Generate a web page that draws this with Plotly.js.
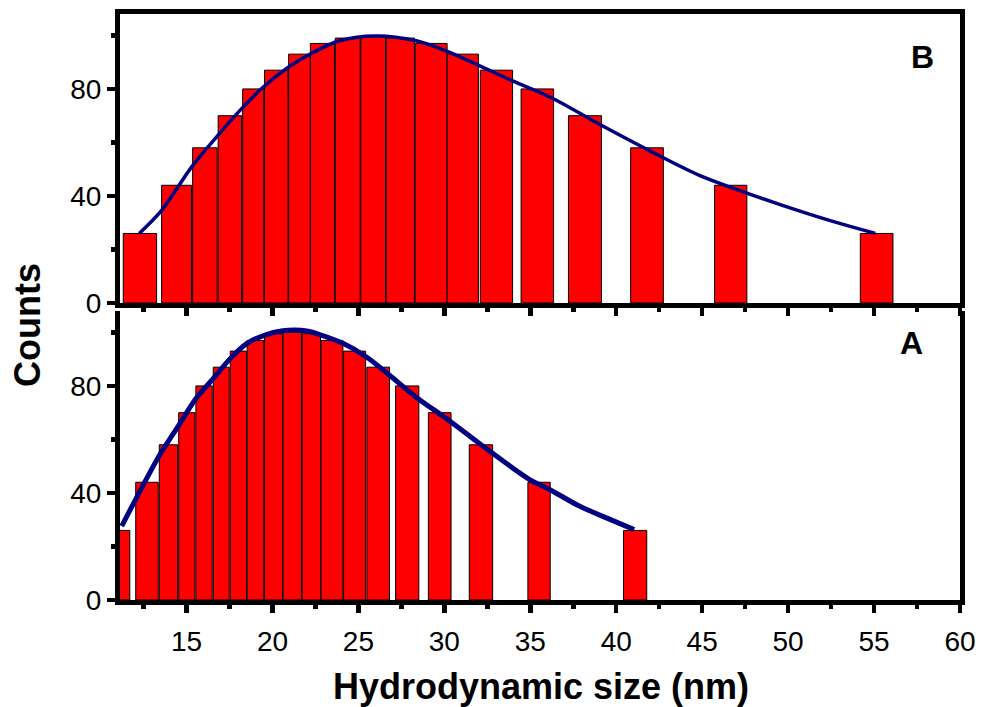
<!DOCTYPE html>
<html>
<head>
<meta charset="utf-8">
<script src="https://cdn.plot.ly/plotly-3.0.1.min.js"></script>
<style>
  html, body { margin: 0; padding: 0; background: #ffffff; }
  #chart { width: 981px; height: 707px; }
</style>
</head>
<body>
<div id="chart"></div>
<script>
// ---------- Data ----------
// Panel B (top)
const binCenterB = [12.29, 14.42, 16.07, 17.52, 18.88, 20.22, 21.57, 22.91, 24.38, 25.86, 27.44, 29.23, 31.07, 33.03, 35.41, 38.18, 41.79, 46.66, 55.15];
const binWidthB  = [1.94, 1.74, 1.43, 1.36, 1.23, 1.37, 1.26, 1.41, 1.45, 1.44, 1.64, 1.86, 1.82, 1.88, 1.89, 1.92, 1.90, 1.88, 1.90];
const countB     = [26, 44, 58, 70, 80, 87, 93, 97, 99, 100, 99, 97, 93, 87, 80, 70, 58, 44, 26];
const fitXB = [12.25, 13.55, 15.29, 16.74, 18.1, 19.45, 20.9, 22.36, 23.9, 26.04, 28.36, 30.1, 32.03, 33.97, 36.2, 39.0, 42.1, 44.84, 47.15, 49.67, 52.6, 55.07];
const fitYB = [26, 34.6, 50.8, 62, 71.9, 80.6, 88, 93.6, 98, 99.8, 98, 94.2, 88.7, 83, 76.8, 66.9, 56.4, 47.7, 42.1, 36.5, 30.5, 26];

// Panel A (bottom)
const binCenterA = [11.2, 12.70, 13.95, 15.02, 16.02, 17.02, 18.02, 19.01, 20.06, 21.15, 22.26, 23.46, 24.78, 26.15, 27.84, 29.73, 32.13, 35.51, 41.10];
const binWidthA  = [1.0, 1.31, 1.07, 0.95, 0.95, 0.93, 0.95, 0.97, 1.05, 1.07, 1.07, 1.28, 1.28, 1.32, 1.35, 1.32, 1.36, 1.30, 1.35];
const countA     = [26, 44, 58, 70, 80, 87, 93, 97, 99.5, 100, 99.5, 97, 93, 87, 80, 70, 58, 44, 26];
const fitXA = [11.23, 12.04, 13.41, 14.54, 15.54, 16.55, 17.54, 18.52, 19.65, 20.5, 21.29, 22.0, 22.74, 24.1, 25.45, 26.81, 28.36, 30.29, 32.04, 34.94, 36.1, 37.85, 39.5, 41.04];
const fitYA = [27.6, 37.6, 53.9, 65.2, 75.2, 82.7, 90.2, 95.9, 99.2, 100.5, 100.9, 100.5, 99.2, 95.9, 90.9, 84, 75.8, 67, 58.5, 45.1, 41.4, 35.1, 30.5, 26.3];

const xTickVals = [15, 20, 25, 30, 35, 40, 45, 50, 55, 60];
const xTickText = ['15', '20', '25', '30', '35', '40', '45', '50', '55', '60'];
const yTickVals = [0, 40, 80];
const yTickText = ['0', '40', '80'];
const panelLabels = ['B', 'A'];
const xTitle = 'Hydrodynamic size (nm)';
const yTitle = 'Counts';

// ---------- Styling ----------
const RED = '#ff0000';
const NAVY = '#000080';
const FONT = 'Liberation Sans, Arial, sans-serif';

const traces = [
  {
    type: 'bar', x: binCenterB, y: countB, width: binWidthB,
    marker: { color: RED, line: { color: '#000000', width: 1 } },
    xaxis: 'x', yaxis: 'y', hoverinfo: 'x+y', showlegend: false
  },
  {
    type: 'scatter', mode: 'lines', x: fitXB, y: fitYB,
    line: { color: NAVY, width: 3.5, shape: 'spline', smoothing: 0.9 },
    xaxis: 'x', yaxis: 'y', showlegend: false
  },
  {
    type: 'bar', x: binCenterA, y: countA, width: binWidthA,
    marker: { color: RED, line: { color: '#000000', width: 1 } },
    xaxis: 'x2', yaxis: 'y2', hoverinfo: 'x+y', showlegend: false
  },
  {
    type: 'scatter', mode: 'lines', x: fitXA, y: fitYA,
    line: { color: NAVY, width: 5, shape: 'spline', smoothing: 0.9 },
    xaxis: 'x2', yaxis: 'y2', showlegend: false
  }
];

const commonAxis = {
  showline: true, linecolor: '#000000', linewidth: 5,
  ticks: 'outside', ticklen: 8, tickwidth: 4.5, tickcolor: '#000000',
  showgrid: false, zeroline: false,
  tickfont: { family: FONT, size: 28, color: '#000000' }
};

const xAxisBase = Object.assign({}, commonAxis, {
  range: [11.13, 60], tickmode: 'array', tickvals: xTickVals, ticktext: xTickText,
  minor: { dtick: 2.5, tick0: 0, ticks: 'outside', ticklen: 4, tickwidth: 4.5, tickcolor: '#000000', showgrid: false }
});
const yAxisBase = Object.assign({}, commonAxis, {
  range: [0, 108], tickmode: 'array', tickvals: yTickVals, ticktext: yTickText,
  minor: { dtick: 20, tick0: 0, ticks: 'outside', ticklen: 4, tickwidth: 4.5, tickcolor: '#000000', showgrid: false },
  mirror: true
});

const layout = {
  width: 981, height: 707,
  margin: { l: 120, r: 21, t: 14, b: 107 },
  paper_bgcolor: '#ffffff', plot_bgcolor: '#ffffff',
  showlegend: false, bargap: 0,
  xaxis: Object.assign({}, xAxisBase, { anchor: 'y', showticklabels: false, mirror: true }),
  yaxis: Object.assign({}, yAxisBase, { anchor: 'x', domain: [0.5068, 1] }),
  xaxis2: Object.assign({}, xAxisBase, { anchor: 'y2', showticklabels: true, mirror: false, ticklabelstandoff: 4 }),
  yaxis2: Object.assign({}, yAxisBase, { anchor: 'x2', domain: [0, 0.4932] }),
  annotations: [
    { text: '<b>' + panelLabels[0] + '</b>', xref: 'paper', yref: 'paper', x: 0.9554, y: 0.9258,
      xanchor: 'center', yanchor: 'middle', showarrow: false, font: { family: FONT, size: 32, color: '#000000' } },
    { text: '<b>' + panelLabels[1] + '</b>', xref: 'paper', yref: 'paper', x: 0.9425, y: 0.4394,
      xanchor: 'center', yanchor: 'middle', showarrow: false, font: { family: FONT, size: 32, color: '#000000' } },
    { text: '<b>' + yTitle + '</b>', xref: 'paper', yref: 'paper', x: -0.1095, y: 0.4693, textangle: -90,
      xanchor: 'center', yanchor: 'middle', showarrow: false, font: { family: FONT, size: 36, color: '#000000' } },
    { text: '<b>' + xTitle + '</b>', xref: 'paper', yref: 'paper', x: 0.501, y: -0.148,
      xanchor: 'center', yanchor: 'middle', showarrow: false, font: { family: FONT, size: 36, color: '#000000' } }
  ]
};

Plotly.newPlot('chart', traces, layout, { displayModeBar: false, staticPlot: true });
</script>
</body>
</html>
